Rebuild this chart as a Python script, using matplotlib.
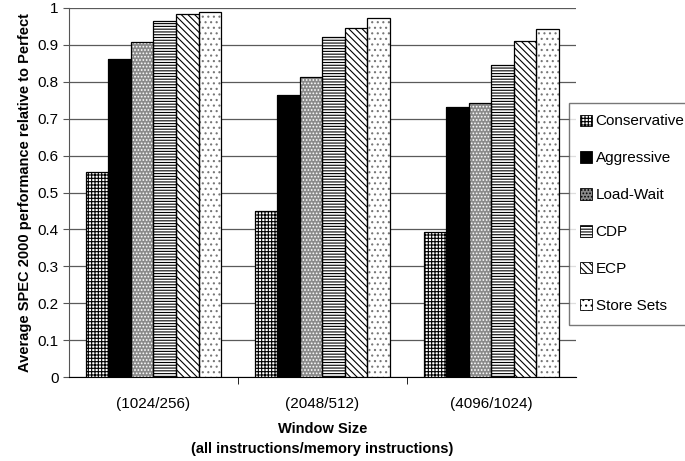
import matplotlib
matplotlib.use("Agg")
import matplotlib.pyplot as plt
import numpy as np

plt.rcParams['font.family'] = ['Liberation Sans', 'DejaVu Sans']
plt.rcParams['hatch.linewidth'] = 0.8

# data
groups = ['(1024/256)', '(2048/512)', '(4096/1024)']
series = ['Conservative', 'Aggressive', 'Load-Wait', 'CDP', 'ECP', 'Store Sets']
conservative = [0.555, 0.450, 0.393]
aggressive = [0.862, 0.763, 0.732]
load_wait = [0.908, 0.813, 0.742]
cdp = [0.965, 0.922, 0.845]
ecp = [0.984, 0.945, 0.910]
store_sets = [0.990, 0.973, 0.942]
values = [conservative, aggressive, load_wait, cdp, ecp, store_sets]

# styles: face colour, hatch, hatch colour
faces = ['white', 'black', '#8a8a8a', 'white', 'white', 'white']
hatches = ['+++++', None, '.....', '------', '\\\\\\\\\\', '...']
hatch_cols = ['black', 'black', 'white', 'black', 'black', '#777777']

fig = plt.figure(figsize=(6.85, 4.61), dpi=100)
ax = fig.add_axes([0.1007, 0.182, 0.740, 0.8007])

x = np.arange(len(groups))
w = 0.8 / len(series)
for i, (name, vals) in enumerate(zip(series, values)):
    pos = x - 0.4 + w * (i + 0.5)
    ax.bar(pos, vals, w, label=name, color=faces[i], edgecolor=hatch_cols[i],
           linewidth=0, hatch=hatches[i], zorder=3)
    ax.bar(pos, vals, w, fill=False, edgecolor='black', linewidth=0.9, zorder=4)

ax.set_xlim(-0.5, 2.5)
ax.set_ylim(0, 1)
ax.set_yticks(np.arange(0, 1.01, 0.1))
ax.set_yticklabels(['0', '0.1', '0.2', '0.3', '0.4', '0.5', '0.6', '0.7', '0.8', '0.9', '1'])
ax.yaxis.grid(True, color='#5a5a5a', linewidth=0.9, zorder=0)
ax.set_axisbelow(True)

ax.set_xticks(x)
ax.set_xticklabels(groups, fontsize=11)
ax.tick_params(axis='x', which='major', length=0, pad=14)
ax.set_xticks([0.5, 1.5], minor=True)
ax.tick_params(axis='x', which='minor', length=5, color='black')
ax.tick_params(axis='y', labelsize=11, length=4, color='#555555')

for s in ['top', 'right']:
    ax.spines[s].set_visible(False)
ax.spines['left'].set_color('#555555')
ax.spines['bottom'].set_color('black')

ax.set_ylabel('Average SPEC 2000 performance relative to Perfect',
              fontsize=10.5, fontweight='bold', labelpad=4)
ax.set_xlabel('Window Size\n(all instructions/memory instructions)',
              fontsize=10.5, fontweight='bold', labelpad=8, linespacing=1.55)

leg = ax.legend(loc='upper left', bbox_to_anchor=(0.986, 0.7425), frameon=True,
                fancybox=False, edgecolor='#555555', fontsize=11,
                handlelength=0.75, handleheight=0.75, handletextpad=0.25,
                labelspacing=1.5, borderpad=0.75, borderaxespad=0)
leg.get_frame().set_linewidth(1.0)
for h in leg.legend_handles:
    h.set_edgecolor('black')
    h.set_linewidth(0.6)

fig.savefig('out.png', dpi=100)
